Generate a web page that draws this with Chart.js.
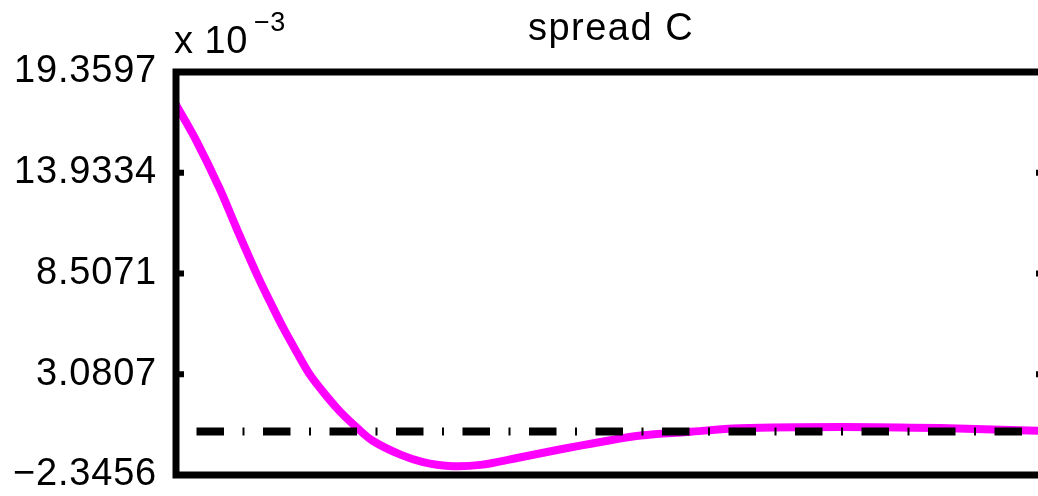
<!DOCTYPE html>
<html>
<head>
<meta charset="utf-8">
<script src="https://cdn.jsdelivr.net/npm/chart.js@4"></script>
<style>
  html, body { margin: 0; padding: 0; background: #fff; overflow: hidden; }
  #wrap { width: 1060px; height: 496px; }
</style>
</head>
<body>
<div id="wrap"><canvas id="spreadChart" width="1060" height="496"></canvas></div>
<script>
// values (units of 1e-3)
const xSteps = [0, 1.2, 2.5, 3.5, 4.7, 5.4, 6.15, 6.95, 7.7, 8.7, 9.45, 10.4, 11.3, 12.9, 14.2, 15.7, 17.5, 19.6, 21.9, 24.4, 26.7, 29.4, 32.4, 38.2, 43.9, 50];
const spreadValues = [17.6, 15.6, 13.1, 10.9, 8.35, 7.0, 5.6, 4.25, 3.05, 1.85, 1.05, 0.2, -0.5, -1.25, -1.65, -1.86, -1.8, -1.43, -1.0, -0.57, -0.22, -0.03, 0.17, 0.24, 0.18, 0.02];
const zeroLineX = [0, 50];
const zeroLineY = [0, 0];
const yTickValues = [-2.3456, 3.0807, 8.5071, 13.9334, 19.3597];
const yTickLabels = ['\u22122.3456', '3.0807', '8.5071', '13.9334', '19.3597'];

const FONT = "'Liberation Sans', Arial, Helvetica, sans-serif";

const framePlugin = {
  id: 'frame',
  beforeDraw(chart) {
    chart.ctx.letterSpacing = '0.8px';
  },
  afterDatasetsDraw(chart) {
    const { ctx, chartArea: a, scales } = chart;
    ctx.save();
    ctx.strokeStyle = '#000';
    ctx.lineWidth = 7;
    ctx.strokeRect(a.left, a.top, a.right - a.left, a.bottom - a.top);
    // inward tick marks on both sides
    ctx.lineWidth = 6;
    yTickValues.slice(1, -1).forEach(v => {
      const y = scales.y.getPixelForValue(v);
      ctx.beginPath();
      ctx.moveTo(a.left, y); ctx.lineTo(a.left + 8, y);
      ctx.moveTo(a.right, y); ctx.lineTo(a.right - 10, y);
      ctx.stroke();
    });
    // title and exponent
    ctx.fillStyle = '#000';
    ctx.textBaseline = 'alphabetic';
    ctx.textAlign = 'center';
    ctx.font = '38px ' + FONT;
    ctx.letterSpacing = '1.5px';
    ctx.fillText('spread C', (a.left + a.right) / 2, 40);
    ctx.textAlign = 'left';
    ctx.letterSpacing = '0.5px';
    ctx.fillText('x 10', 174, 53);
    ctx.font = '27px ' + FONT;
    ctx.fillText('\u22123', 254, 31);
    ctx.restore();
  }
};

new Chart(document.getElementById('spreadChart'), {
  type: 'line',
  data: {
    datasets: [
      {
        label: 'zero',
        data: zeroLineX.map((x, i) => ({ x: x, y: zeroLineY[i] })),
        borderColor: '#000',
        borderWidth: 8,
        borderDash: [27.5, 18.5, 2, 18.5],
        borderDashOffset: 46,
        borderCapStyle: 'butt',
        pointRadius: 0
      },
      {
        label: 'spread C',
        data: xSteps.map((x, i) => ({ x: x, y: spreadValues[i] })),
        borderColor: '#ff00ff',
        borderWidth: 8,
        tension: 0.35,
        pointRadius: 0
      }
    ]
  },
  options: {
    responsive: false,
    animation: false,
    layout: { padding: { top: 72, bottom: 21, left: 0, right: 14 } },
    plugins: { legend: { display: false }, title: { display: false }, tooltip: { enabled: false } },
    scales: {
      x: { type: 'linear', min: 0, max: 50, display: false },
      y: {
        min: -2.3456,
        max: 19.3597,
        afterFit(scale) {
          scale.width = 176;
          scale.paddingTop = 0;
          scale.paddingBottom = 0;
        },
        afterBuildTicks(scale) { scale.ticks = yTickValues.map(v => ({ value: v })); },
        grid: { display: false, drawTicks: false },
        border: { display: false },
        ticks: {
          padding: 19,
          color: '#000',
          font: { family: FONT, size: 38 },
          callback: (v, i) => yTickLabels[i]
        }
      }
    }
  },
  plugins: [framePlugin]
});
</script>
</body>
</html>
